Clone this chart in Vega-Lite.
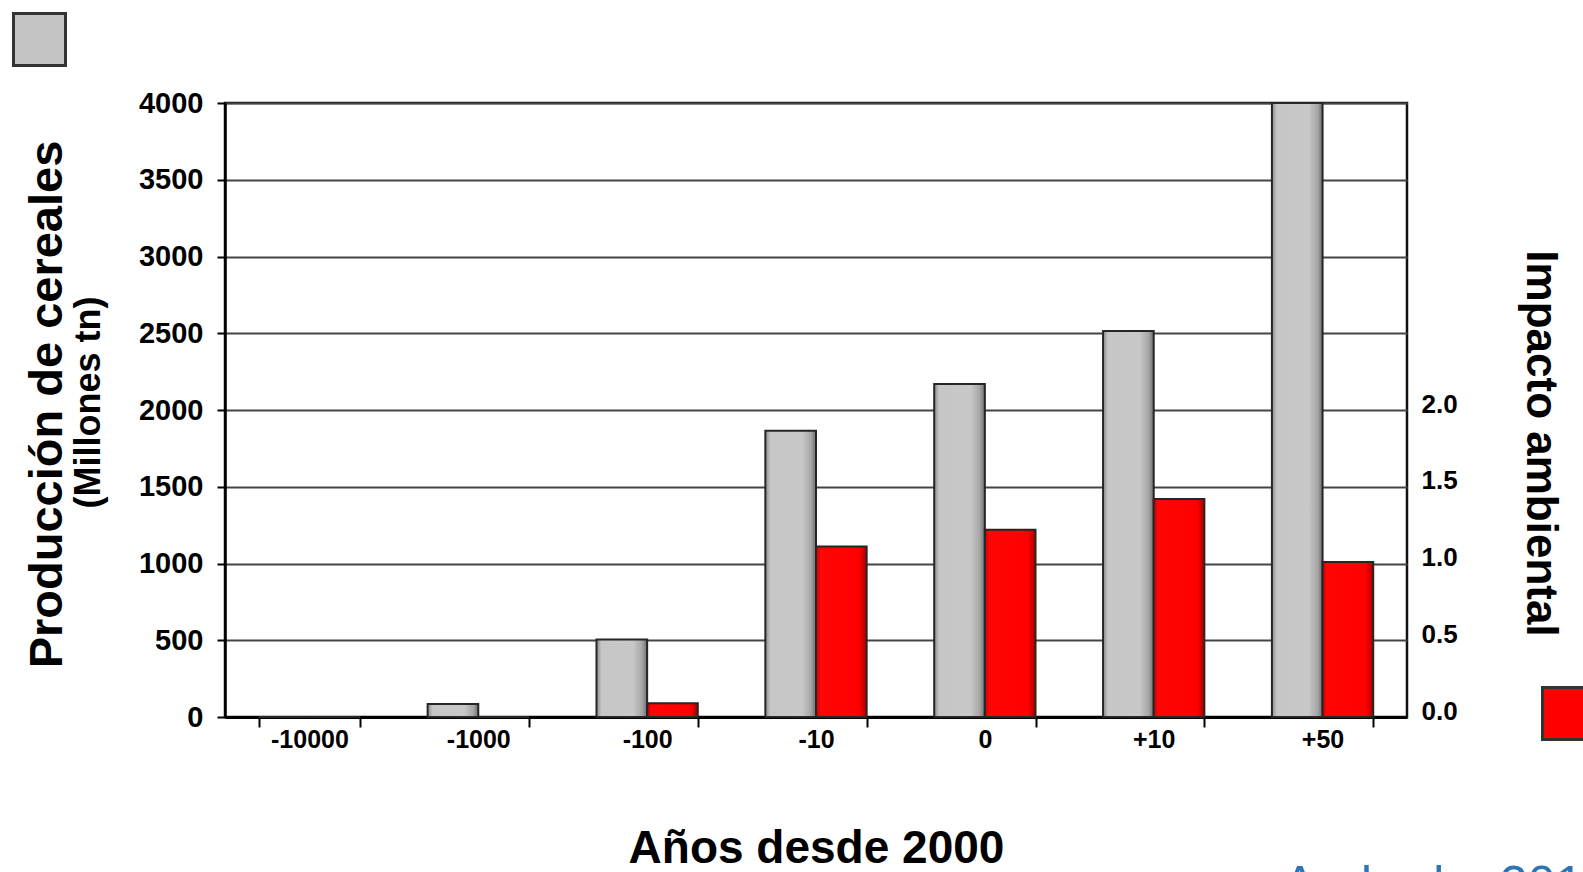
{
  "$schema": "https://vega.github.io/schema/vega-lite/v6.json",
  "width": 1182,
  "height": 614,
  "autosize": {"type": "none"},
  "padding": {"left": 225, "top": 103, "right": 176, "bottom": 155},
  "background": "white",
  "config": {
    "font": "Liberation Sans",
    "view": {"stroke": "#111111", "strokeWidth": 2.5}
  },
  "title": {
    "text": "Andrade, 2016",
    "orient": "bottom",
    "anchor": "start",
    "frame": "group",
    "dx": 1058,
    "offset": -10,
    "fontSize": 50,
    "fontWeight": "normal",
    "font": "Liberation Sans",
    "color": "#2e75b6",
    "baseline": "top"
  },
  "data": {
    "values": [
      {"year": "-10000", "series": "Producción", "value": 0},
      {"year": "-1000", "series": "Producción", "value": 85},
      {"year": "-100", "series": "Producción", "value": 505},
      {"year": "-10", "series": "Producción", "value": 1865},
      {"year": "0", "series": "Producción", "value": 2170},
      {"year": "+10", "series": "Producción", "value": 2515},
      {"year": "+50", "series": "Producción", "value": 4000},
      {"year": "-10000", "series": "Impacto", "value": 0},
      {"year": "-1000", "series": "Impacto", "value": 0},
      {"year": "-100", "series": "Impacto", "value": 0.09},
      {"year": "-10", "series": "Impacto", "value": 1.11},
      {"year": "0", "series": "Impacto", "value": 1.22},
      {"year": "+10", "series": "Impacto", "value": 1.42},
      {"year": "+50", "series": "Impacto", "value": 1.01}
    ]
  },
  "encoding": {
    "x": {
      "field": "year",
      "type": "nominal",
      "sort": ["-10000", "-1000", "-100", "-10", "0", "+10", "+50"],
      "scale": {"paddingInner": 0.4, "paddingOuter": 0.2},
      "axis": {
        "title": "Años desde 2000",
        "titleFontSize": 46,
        "titleFontWeight": "bold",
        "titleColor": "#000000",
        "titleBaseline": "alphabetic",
        "titleY": 145,
        "labelFontSize": 25,
        "labelFontWeight": "bold",
        "labelColor": "#000000",
        "labelAngle": 0,
        "labelPadding": 0,
        "tickBand": "extent",
        "tickSize": 10,
        "tickWidth": 2,
        "tickColor": "#000000",
        "domainColor": "#000000",
        "domainWidth": 3,
        "grid": false
      }
    }
  },
  "layer": [
    {
      "transform": [{"filter": "datum.series === 'Producción'"}],
      "mark": {
        "type": "bar",
        "stroke": "#262626",
        "strokeWidth": 2,
        "fill": {
          "gradient": "linear",
          "x1": 0, "y1": 0, "x2": 1, "y2": 0,
          "stops": [
            {"offset": 0, "color": "#8c8c8c"},
            {"offset": 0.1, "color": "#c6c6c6"},
            {"offset": 0.72, "color": "#c8c8c8"},
            {"offset": 0.9, "color": "#a6a6a6"},
            {"offset": 1, "color": "#6e6e6e"}
          ]
        }
      },
      "encoding": {
        "xOffset": {"field": "series", "type": "nominal", "sort": ["Producción", "Impacto"], "scale": {"domain": ["Producción", "Impacto"]}},
        "y": {
          "field": "value",
          "type": "quantitative",
          "scale": {"domain": [0, 4000], "nice": false},
          "axis": {
            "orient": "left",
            "values": [0, 500, 1000, 1500, 2000, 2500, 3000, 3500, 4000],
            "format": "d",
            "title": "(Millones tn)",
            "titleFontSize": 36,
            "titleFontWeight": "bold",
            "titleColor": "#000000",
            "titleX": -126,
            "titleY": 299,
            "titleAngle": -90,
            "titleAlign": "center",
            "titleBaseline": "alphabetic",
            "labelFontSize": 29,
            "labelFontWeight": "bold",
            "labelColor": "#000000",
            "labelPadding": 14,
            "tickSize": 8,
            "tickWidth": 2,
            "tickColor": "#000000",
            "domainColor": "#000000",
            "domainWidth": 2.5,
            "grid": true,
            "gridColor": "#444444",
            "gridWidth": 2
          }
        }
      }
    },
    {
      "transform": [{"filter": "datum.series === 'Impacto'"}],
      "mark": {
        "type": "bar",
        "stroke": "#262626",
        "strokeWidth": 2,
        "fill": {
          "gradient": "linear",
          "x1": 0, "y1": 0, "x2": 1, "y2": 0,
          "stops": [
            {"offset": 0, "color": "#c00000"},
            {"offset": 0.08, "color": "#ff0505"},
            {"offset": 0.85, "color": "#ff0000"},
            {"offset": 1, "color": "#a80000"}
          ]
        }
      },
      "encoding": {
        "xOffset": {"field": "series", "type": "nominal", "sort": ["Producción", "Impacto"], "scale": {"domain": ["Producción", "Impacto"]}},
        "y": {
          "field": "value",
          "type": "quantitative",
          "scale": {"domain": [0, 4], "nice": false},
          "axis": {
            "orient": "right",
            "values": [0, 0.5, 1, 1.5, 2],
            "format": ".1f",
            "title": "Impacto ambiental",
            "titleFontSize": 44,
            "titleFontWeight": "bold",
            "titleColor": "#000000",
            "titleX": 119,
            "titleY": 340,
            "titleAngle": 90,
            "titleAlign": "center",
            "titleBaseline": "alphabetic",
            "labelFontSize": 26,
            "labelFontWeight": "bold",
            "labelColor": "#000000",
            "labelPadding": 14,
            "labelOffset": -6,
            "ticks": false,
            "domain": false,
            "grid": false
          }
        }
      }
    },
    {
      "transform": [{"filter": "false"}],
      "mark": {"type": "bar"},
      "encoding": {
        "y": {
          "field": "value",
          "type": "quantitative",
          "scale": {"domain": [0, 4000], "nice": false},
          "axis": {
            "orient": "left",
            "title": "Producción de cereales",
            "titleFontSize": 47,
            "titleFontWeight": "bold",
            "titleColor": "#000000",
            "titleX": -164,
            "titleY": 301,
            "titleAngle": -90,
            "titleAlign": "center",
            "titleBaseline": "alphabetic",
            "labels": false,
            "ticks": false,
            "domain": false,
            "grid": false
          }
        },
        "color": {
          "field": "series",
          "type": "nominal",
          "scale": {"domain": ["Producción"], "range": ["#c4c4c4"]},
          "legend": {
            "orient": "none",
            "legendX": -213,
            "legendY": -91,
            "title": null,
            "padding": 0,
            "symbolType": "square",
            "symbolSize": 2704,
            "symbolStrokeColor": "#333333",
            "symbolStrokeWidth": 3,
            "symbolOpacity": 1,
            "labelExpr": "''",
            "labelFontSize": 1
          }
        }
      }
    },
    {
      "transform": [{"filter": "false"}],
      "mark": {"type": "bar"},
      "encoding": {
        "y": {
          "field": "value",
          "type": "quantitative",
          "scale": {"domain": [0, 4], "nice": false},
          "axis": null
        },
        "color": {
          "field": "series",
          "type": "nominal",
          "scale": {"domain": ["Impacto"], "range": ["#ff0000"]},
          "legend": {
            "orient": "none",
            "legendX": 1316,
            "legendY": 583,
            "title": null,
            "padding": 0,
            "symbolType": "square",
            "symbolSize": 2704,
            "symbolStrokeColor": "#333333",
            "symbolStrokeWidth": 3,
            "symbolOpacity": 1,
            "labelExpr": "''",
            "labelFontSize": 1
          }
        }
      }
    }
  ],
  "resolve": {"scale": {"y": "independent", "color": "independent"}}
}
